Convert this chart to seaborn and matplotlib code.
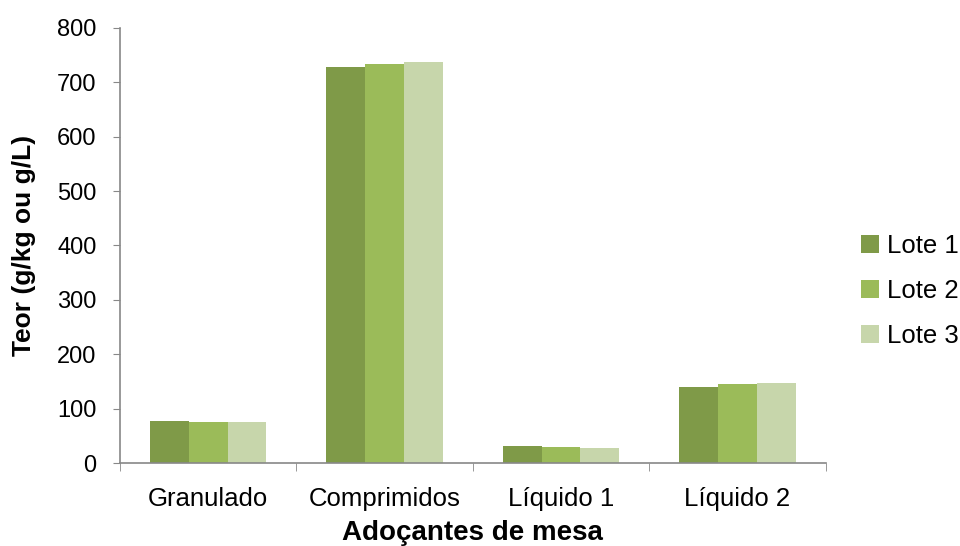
import pandas as pd
import numpy as np
import seaborn as sns
import matplotlib.pyplot as plt
from matplotlib.ticker import FixedLocator

# data
categories = ['Granulado', 'Comprimidos', 'Líquido 1', 'Líquido 2']
lote1 = [77, 728, 31, 140]
lote2 = [76, 733, 30, 145]
lote3 = [76, 737, 28, 147]
series = ['Lote 1', 'Lote 2', 'Lote 3']
colors = ['#7F9A48', '#9BBB59', '#C7D6AB']

df = pd.DataFrame({
    'cat': categories * 3,
    'lote': [s for s in series for _ in categories],
    'teor': lote1 + lote2 + lote3,
})

sns.set_style('white')
plt.rcParams['font.family'] = ['Liberation Sans', 'DejaVu Sans']
plt.rcParams['text.color'] = 'black'
plt.rcParams['axes.labelcolor'] = 'black'
plt.rcParams['xtick.labelcolor'] = 'black'
plt.rcParams['ytick.labelcolor'] = 'black'

fig = plt.figure(figsize=(9.6, 5.46), dpi=100)
ax = fig.add_axes([0.125, 0.152, 0.735, 0.797])

sns.barplot(data=df, x='cat', y='teor', hue='lote', palette=colors,
            width=0.66, saturation=1, ax=ax, edgecolor='none')

ax.set_xlim(-0.5, 3.5)
ax.set_ylim(0, 800)
ax.set_yticks(range(0, 801, 100))
ax.tick_params(axis='y', labelsize=17, length=5, direction='out', color='#888888',
               labelcolor='black', left=True, pad=12)
ax.tick_params(axis='x', which='major', labelsize=18.5, length=0, pad=17,
               labelcolor='black')
ax.xaxis.set_minor_locator(FixedLocator(np.arange(-0.5, 3.6, 1)))
ax.tick_params(axis='x', which='minor', length=6, direction='out', color='#888888', bottom=True)

for s in ['top', 'right']:
    ax.spines[s].set_visible(False)
for s in ['left', 'bottom']:
    ax.spines[s].set_color('#888888')
    ax.spines[s].set_linewidth(1.2)

ax.set_xlabel('Adoçantes de mesa', fontsize=20, fontweight='bold', labelpad=7,
              color='black')
ax.set_ylabel('Teor (g/kg ou g/L)', fontsize=19, fontweight='bold', labelpad=15,
              color='black')

ax.legend(loc='center left', bbox_to_anchor=(1.018, 0.395), frameon=False,
          fontsize=18.5, handlelength=0.7, handleheight=0.7, handletextpad=0.3,
          labelspacing=0.82, labelcolor='black')

fig.savefig('out.png', dpi=100)
